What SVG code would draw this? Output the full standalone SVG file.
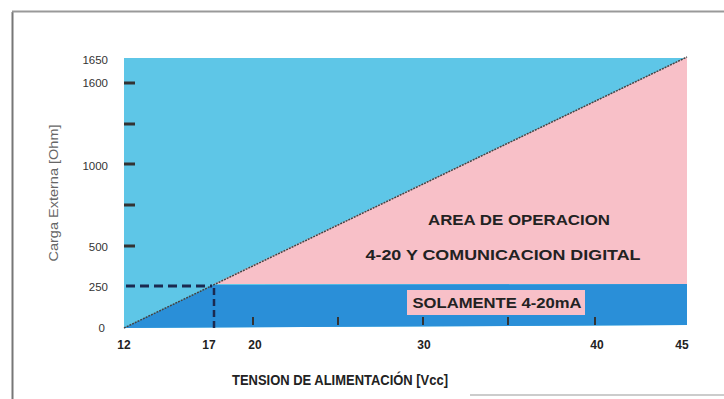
<svg xmlns="http://www.w3.org/2000/svg" width="724" height="399" viewBox="0 0 724 399">
<style>
.tl{font-family:"Liberation Sans",Arial,sans-serif;font-size:11.5px;fill:#333;text-anchor:end}
.xl{font-family:"Liberation Sans",Arial,sans-serif;font-size:12px;font-weight:bold;fill:#222;text-anchor:middle}
.lab{font-family:"Liberation Sans",Arial,sans-serif;font-weight:bold;fill:#222;text-anchor:middle}
.tick{stroke:#333;stroke-width:3}
.xt{stroke:#333;stroke-width:2}
</style>
<rect width="724" height="399" fill="#fff"/>
<g id="frame" fill="none">
<line x1="12.5" y1="12" x2="12.5" y2="399" stroke="#777" stroke-width="2"/>
<line x1="12" y1="11.5" x2="724" y2="11.5" stroke="#999" stroke-width="2"/>
<line x1="470" y1="395" x2="724" y2="395" stroke="#bbb" stroke-width="1.5"/>
</g>
<g id="regions">
<polygon id="region-blue" points="124,58 687,58 687,325 124,328" fill="#5ec6e7"/>
<polygon id="region-pink" points="214,284 687,57 687,284" fill="#f8c0c8"/>
<polygon id="region-dark" points="124,328 214,285 687,284 687,325 124,328" fill="#2a8fd8"/>
</g>
<g id="connectors" fill="none">
<line x1="124" y1="328" x2="687" y2="57" stroke="#444" stroke-width="1.5" stroke-dasharray="2 1"/>
<line x1="126" y1="286" x2="212" y2="286" stroke="#1b2a50" stroke-width="3" stroke-dasharray="9 5"/>
<line x1="214" y1="288" x2="214" y2="328" stroke="#1b2a50" stroke-width="2.5" stroke-dasharray="7 4"/>
</g>
<g id="y-ticks">
<line class="tick" x1="124" y1="83" x2="135" y2="83"/>
<line class="tick" x1="124" y1="124" x2="135" y2="124"/>
<line class="tick" x1="124" y1="164" x2="135" y2="164"/>
<line class="tick" x1="124" y1="205" x2="135" y2="205"/>
<line class="tick" x1="124" y1="246" x2="135" y2="246"/>
</g>
<g id="x-ticks">
<line class="xt" x1="253" y1="317" x2="253" y2="325"/>
<line class="xt" x1="338" y1="317" x2="338" y2="325"/>
<line class="xt" x1="423" y1="317" x2="423" y2="325"/>
<line class="xt" x1="508" y1="317" x2="508" y2="325"/>
<line class="xt" x1="595" y1="317" x2="595" y2="325"/>
</g>
<g id="y-labels">
<text class="tl" x="108" y="64">1650</text>
<text class="tl" x="108" y="87">1600</text>
<text class="tl" x="108" y="170">1000</text>
<text class="tl" x="108" y="251">500</text>
<text class="tl" x="108" y="291">250</text>
<text class="tl" x="105" y="332">0</text>
</g>
<g id="x-labels">
<text class="xl" x="124" y="349">12</text>
<text class="xl" x="209" y="349">17</text>
<text class="xl" x="255" y="349">20</text>
<text class="xl" x="424" y="349">30</text>
<text class="xl" x="597" y="349">40</text>
<text class="xl" x="682" y="349">45</text>
</g>
<g id="axis-titles">
<text x="55" y="193" transform="rotate(-90 55 193)" font-family="Liberation Sans, Arial, sans-serif" font-size="13" fill="#666" text-anchor="middle" dominant-baseline="middle" textLength="137" lengthAdjust="spacingAndGlyphs">Carga Externa [Ohm]</text>
<text class="lab" x="340" y="385" font-size="14" textLength="216" lengthAdjust="spacingAndGlyphs">TENSION DE ALIMENTACIÓN [Vcc]</text>
</g>
<g id="area-label">
<text class="lab" x="519" y="225" font-size="14" textLength="182" lengthAdjust="spacingAndGlyphs">AREA DE OPERACION</text>
<text class="lab" x="503" y="260" font-size="14" textLength="275" lengthAdjust="spacingAndGlyphs">4-20 Y COMUNICACION DIGITAL</text>
</g>
<g id="solamente">
<rect x="407" y="290" width="178" height="25" fill="#f8c0c8"/>
<text class="lab" x="497" y="308" font-size="15" textLength="169" lengthAdjust="spacingAndGlyphs">SOLAMENTE 4-20mA</text>
</g>
</svg>
